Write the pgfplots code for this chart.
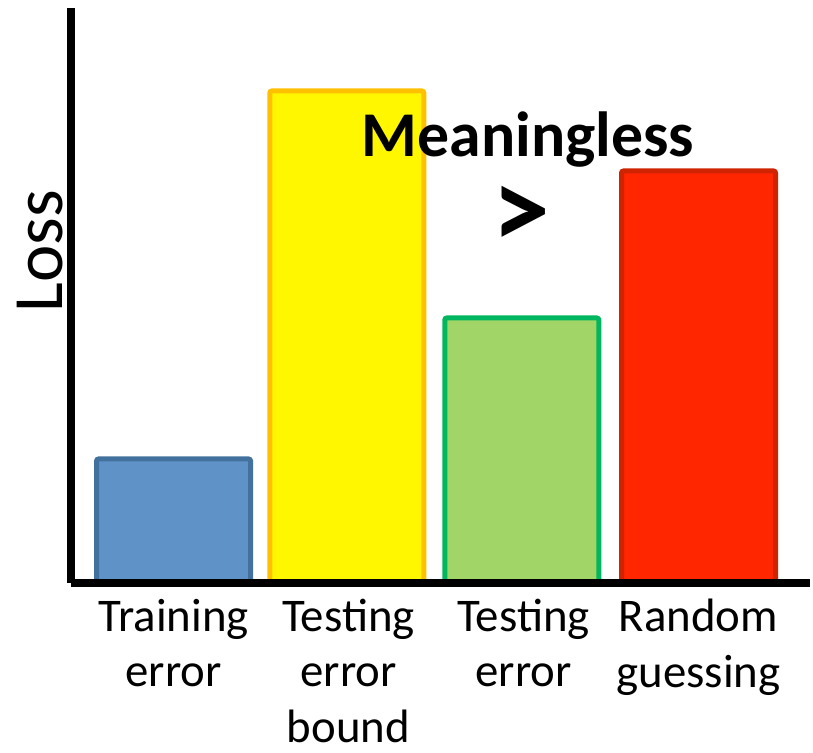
\documentclass[border=0pt]{standalone}
\usepackage{pgfplots}
\pgfplotsset{compat=1.18}
\usepackage{fontspec}
\setmainfont{Carlito}
\definecolor{bfill}{HTML}{5F92C6}
\definecolor{bdraw}{HTML}{41719C}
\definecolor{yfill}{HTML}{FFF700}
\definecolor{ydraw}{HTML}{FFC000}
\definecolor{gfill}{HTML}{A2D567}
\definecolor{gdraw}{HTML}{00B65E}
\definecolor{rfill}{HTML}{FF2600}
\definecolor{rdraw}{HTML}{D02300}
\begin{document}
\begin{tikzpicture}[x=1bp,y=1bp]
\path[use as bounding box] (0,0) rectangle (813,753);
\begin{axis}[
  at={(71bp,170bp)}, anchor=south west,
  scale only axis, width=739bp, height=575bp,
  xmin=-0.586, xmax=3.637, ymin=0, ymax=575,
  axis x line*=bottom, axis y line*=left,
  axis line style={-, line width=7.5bp, black},
  axis on top,
  ytick=\empty,
  xtick={0,1,2,3},
  xticklabels={Training\\error, Testing\\error\\bound, Testing\\error, Random\\guessing},
  major tick length=0pt,
  x tick label style={align=center, font=\fontsize{47}{55.5}\selectfont, anchor=north, inner sep=0pt, yshift=-16bp},
  ybar, bar width=0.88, bar shift=0pt,
  clip=false,
]
\addplot[fill=bfill, draw=bdraw, line width=5bp, rounded corners=2bp] coordinates {(0,124)};
\addplot[fill=yfill, draw=ydraw, line width=5bp, rounded corners=2bp] coordinates {(0.99,492)};
\addplot[fill=gfill, draw=gdraw, line width=5bp, rounded corners=2bp] coordinates {(1.99,265)};
\addplot[fill=rfill, draw=rdraw, line width=5bp, rounded corners=2bp] coordinates {(3,412)};
\end{axis}
\node[anchor=base, rotate=90, inner sep=0pt, font=\fontsize{71}{84}\selectfont] at (62,502) {Loss};
\node[anchor=base, inner sep=0pt, font=\fontsize{64}{76}\selectfont\bfseries] at (528,596) {Meaningless};
\node[anchor=base, inner sep=0pt, font=\fontsize{116}{130}\selectfont\bfseries] at (521,504) {>};
\end{tikzpicture}
\end{document}
